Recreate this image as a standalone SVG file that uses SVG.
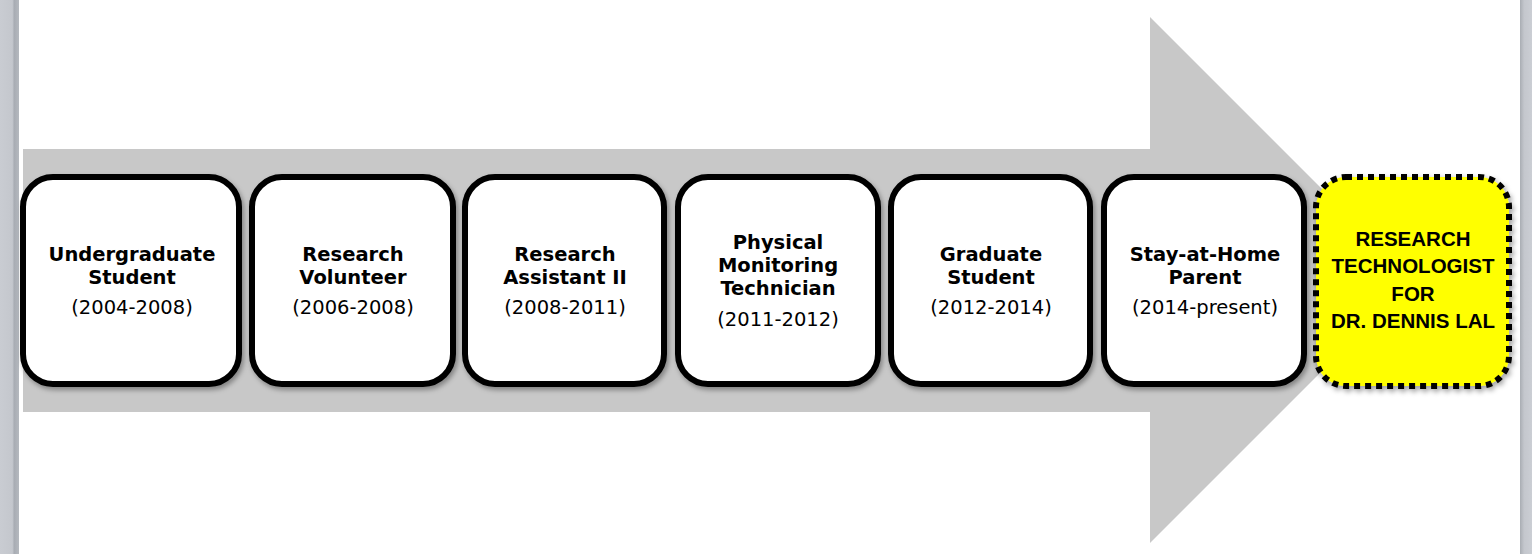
<svg xmlns="http://www.w3.org/2000/svg" width="1532" height="554" viewBox="0 0 1532 554">
  <style>
    .box { fill: #ffffff; stroke: #000000; stroke-width: 6; filter: url(#sh); }
    .goal { fill: #ffff00; stroke: #000000; stroke-width: 6; stroke-dasharray: 6 5; filter: url(#sh); }
    .t { font-family: "DejaVu Sans", Verdana, sans-serif; font-weight: bold; font-size: 19.5px; fill: #000; text-anchor: middle; }
    .d { font-family: "DejaVu Sans", Verdana, sans-serif; font-size: 19.5px; fill: #000; text-anchor: middle; }
    .g { font-family: "Liberation Sans", Arial, sans-serif; font-weight: bold; font-size: 20.5px; fill: #000; text-anchor: middle; }
  </style>
  <defs>
    <filter id="sh" x="-10%" y="-10%" width="125%" height="125%">
      <feDropShadow dx="2" dy="3" stdDeviation="2.5" flood-color="#000" flood-opacity="0.35"/>
    </filter>
    <linearGradient id="lg" x1="0" x2="1" y1="0" y2="0">
      <stop offset="0" stop-color="#c9ccd2"/>
      <stop offset="0.65" stop-color="#c4c7cd"/>
      <stop offset="0.75" stop-color="#a8acb3"/>
      <stop offset="1" stop-color="#b5b9bf"/>
    </linearGradient>
    <linearGradient id="rg" x1="0" x2="1" y1="0" y2="0">
      <stop offset="0" stop-color="#a9adb3"/>
      <stop offset="0.35" stop-color="#c4c7cd"/>
      <stop offset="1" stop-color="#cbced4"/>
    </linearGradient>
  </defs>
  <rect x="0" y="0" width="1532" height="554" fill="#ffffff"/>
  <rect x="0" y="0" width="19" height="554" fill="url(#lg)"/>
  <rect x="1520" y="0" width="12" height="554" fill="url(#rg)"/>

  <g id="arrow">
    <polygon points="23,149 1150,149 1150,17 1413,280 1150,543 1150,412 23,412" fill="#c8c8c8"/>
  </g>

  <g id="connectors"></g>

  <g id="n1">
    <rect class="box" x="23" y="177" width="216" height="207" rx="30"/>
    <text class="t" x="132" y="261">Undergraduate</text>
    <text class="t" x="132" y="284">Student</text>
    <text class="d" x="132" y="314">(2004-2008)</text>
  </g>
  <g id="n2">
    <rect class="box" x="252" y="177" width="201" height="207" rx="30"/>
    <text class="t" x="353" y="261">Research</text>
    <text class="t" x="353" y="284">Volunteer</text>
    <text class="d" x="353" y="314">(2006-2008)</text>
  </g>
  <g id="n3">
    <rect class="box" x="465" y="177" width="199" height="207" rx="30"/>
    <text class="t" x="565" y="261">Research</text>
    <text class="t" x="565" y="284">Assistant II</text>
    <text class="d" x="565" y="314">(2008-2011)</text>
  </g>
  <g id="n4">
    <rect class="box" x="678" y="177" width="200" height="207" rx="30"/>
    <text class="t" x="778" y="249">Physical</text>
    <text class="t" x="778" y="272">Monitoring</text>
    <text class="t" x="778" y="295">Technician</text>
    <text class="d" x="778" y="326">(2011-2012)</text>
  </g>
  <g id="n5">
    <rect class="box" x="891" y="177" width="199" height="207" rx="30"/>
    <text class="t" x="991" y="261">Graduate</text>
    <text class="t" x="991" y="284">Student</text>
    <text class="d" x="991" y="314">(2012-2014)</text>
  </g>
  <g id="n6">
    <rect class="box" x="1104" y="177" width="200" height="207" rx="30"/>
    <text class="t" x="1205" y="261">Stay-at-Home</text>
    <text class="t" x="1205" y="284">Parent</text>
    <text class="d" x="1205" y="314">(2014-present)</text>
  </g>
  <g id="n7">
    <rect class="goal" x="1316" y="177" width="193" height="209" rx="30"/>
    <text class="g" x="1413" y="246">RESEARCH</text>
    <text class="g" x="1413" y="273">TECHNOLOGIST</text>
    <text class="g" x="1413" y="301">FOR</text>
    <text class="g" x="1413" y="328">DR. DENNIS LAL</text>
  </g>
</svg>
